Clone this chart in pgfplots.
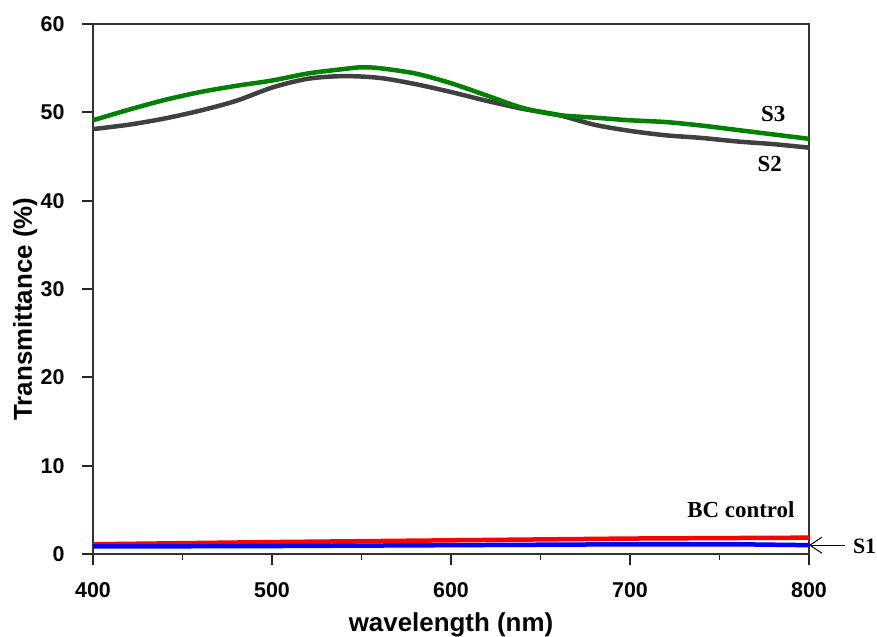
\documentclass[border=0pt]{standalone}
\usepackage{pgfplots}
\pgfplotsset{compat=1.18}
\usepackage{fontspec}
\setmainfont{Liberation Sans}
\newfontfamily\tnr{Liberation Serif}
\usetikzlibrary{arrows.meta}
\definecolor{sgray}{RGB}{64,64,64}
\definecolor{sgreen}{RGB}{0,128,0}
\begin{document}
\begin{tikzpicture}
\begin{axis}[
  at={(0,0)}, anchor=south west,
  scale only axis, width=716bp, height=530bp,
  xmin=400, xmax=800, ymin=0, ymax=60,
  xtick={400,500,...,800}, ytick={0,10,...,60},
  minor xtick={450,550,650,750},
  xtick align=outside, ytick align=outside,
  xtick pos=left, ytick pos=left,
  major tick length=11pt, minor tick length=6pt,
  axis line style={line width=1.6bp, black!80},
  xtick style={draw=black!85, line width=1.8pt},
  ytick style={draw=black!85, line width=1.8pt},
  /pgf/number format/assume math mode=true,
  ticklabel style={font=\fontsize{21.5}{25}\selectfont\bfseries},
  xticklabel shift=14bp, yticklabel shift=14bp,
  xlabel={wavelength (nm)}, ylabel={Transmittance (\%)},
  label style={font=\fontsize{26}{30}\selectfont\bfseries},
  xlabel style={at={(axis description cs:0.5,-0.1453)}, anchor=base},
  ylabel style={at={(axis description cs:-0.0852,0.462)}, anchor=base},
  clip=false,
]
\addplot[sgray, line width=4.5bp, smooth] coordinates {
(400,48.1)(420,48.6)(440,49.3)(460,50.2)(480,51.3)(500,52.8)(520,53.8)(540,54.1)(560,53.9)(580,53.2)(600,52.3)(620,51.3)(640,50.4)(660,49.7)(680,48.6)(700,47.9)(720,47.4)(740,47.1)(760,46.7)(780,46.4)(800,46.0)};
\addplot[sgreen, line width=4.5bp, smooth] coordinates {
(400,49.1)(420,50.3)(440,51.4)(460,52.3)(480,53.0)(500,53.6)(520,54.4)(540,54.9)(550,55.1)(560,55.0)(580,54.4)(600,53.3)(620,51.9)(640,50.5)(660,49.7)(680,49.4)(700,49.1)(720,48.9)(740,48.5)(760,48.0)(780,47.5)(800,47.0)};
\addplot[red, line width=4.5bp] coordinates {
(400,1.1)(500,1.35)(600,1.55)(700,1.75)(800,1.85)};
\addplot[blue, line width=4.5bp] coordinates {
(400,0.85)(500,0.9)(600,1.0)(700,1.1)(760,1.1)(800,1.0)};
\node[font=\tnr\fontsize{23}{27}\selectfont\bfseries] at (axis cs:780,49.8) {S3};
\node[font=\tnr\fontsize{23}{27}\selectfont\bfseries] at (axis cs:778,44.2) {S2};
\node[font=\tnr\fontsize{23}{27}\selectfont\bfseries] at (axis cs:762,5.0) {BC control};
\node[font=\tnr\fontsize{22}{26}\selectfont\bfseries, anchor=west, inner sep=0pt] at (axis cs:824.5,0.9) {S1};
\draw[line width=1bp, -{Straight Barb[length=12bp,width=16bp]}] (axis cs:820,1.0) -- (axis cs:800,1.0);
\end{axis}
\pgfresetboundingbox
\useasboundingbox (-93bp,-83bp) rectangle (784bp,554bp);
\end{tikzpicture}
\end{document}
